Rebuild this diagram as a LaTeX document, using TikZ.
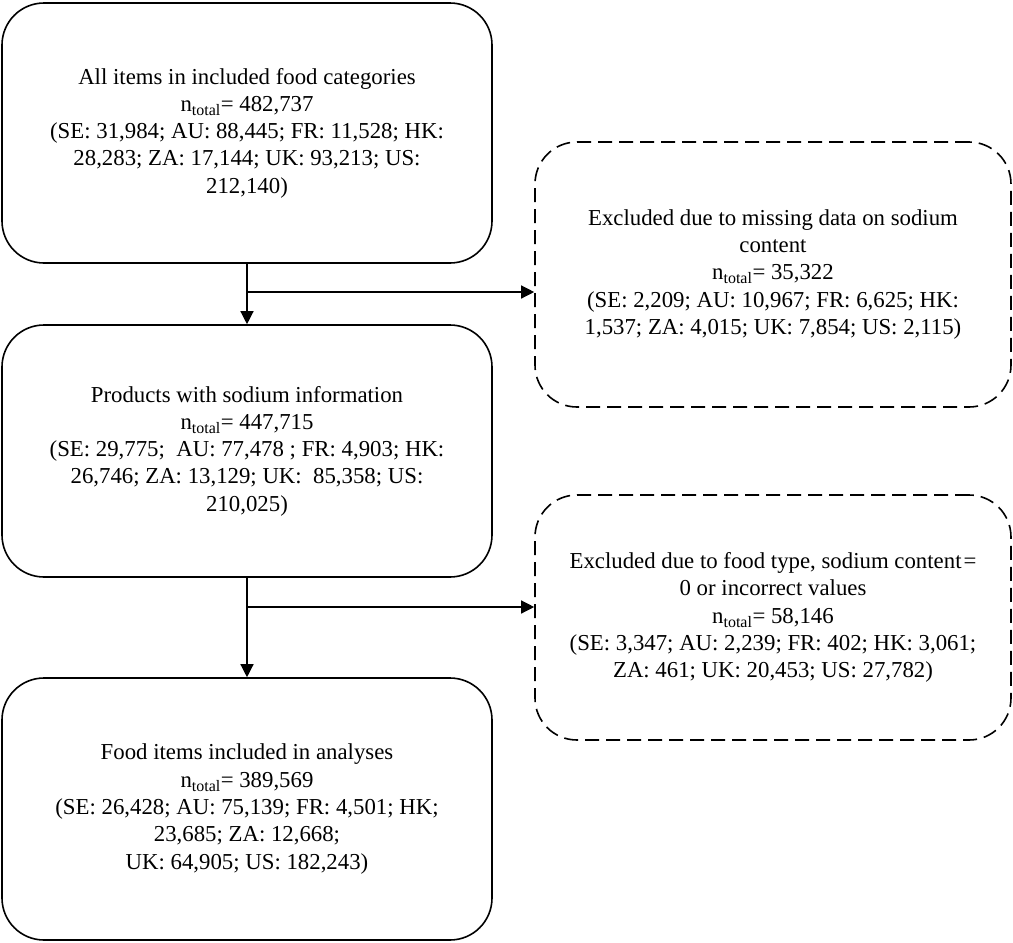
\documentclass[tikz,border=0pt]{standalone}
\usepackage{fontspec}
\setmainfont{Liberation Serif}
\usetikzlibrary{
    arrows.meta,
    calc,
    positioning
}

\begin{document}
\begin{tikzpicture}[x=1pt, y=-1pt,
    stage/.style={draw=black, line width=1.6pt, rounded corners=42pt, minimum width=490pt,
        align=center, inner sep=0pt, font=\fontsize{22.8}{27.3}\selectfont},
    excluded/.style={stage, dash pattern=on 14pt off 7pt, minimum width=476pt},
    flow/.style={line width=1.3pt, -{Triangle[length=13pt, width=13pt]}}
]
    \useasboundingbox (0, 0) rectangle (1013, 943);
    % main stages
    \node[stage, minimum height=260pt] (all) at (247, 133) {All items in included food categories\\
        n\textsubscript{total}= 482,737\\
        (SE: 31,984; AU: 88,445; FR: 11,528; HK:\\
        28,283; ZA: 17,144; UK: 93,213; US:\\
        212,140)};
    \node[stage, minimum height=252pt] (sodium) at (247, 451) {Products with sodium information\\
        n\textsubscript{total}= 447,715\\
        (SE: 29,775;\ \ AU: 77,478 ; FR: 4,903; HK:\\
        26,746; ZA: 13,129; UK:\ \ 85,358; US:\\
        210,025)};
    \node[stage, minimum height=262pt] (final) at (247, 809) {Food items included in analyses\\
        n\textsubscript{total}= 389,569\\
        (SE: 26,428; AU: 75,139; FR: 4,501; HK;\\
        23,685; ZA: 12,668;\\
        UK: 64,905; US: 182,243)};
    % exclusions
    \node[excluded, minimum height=265pt] (missing) at (773, 274.5) {Excluded due to missing data on sodium\\
        content\\
        n\textsubscript{total}= 35,322\\
        (SE: 2,209; AU: 10,967; FR: 6,625; HK:\\
        1,537; ZA: 4,015; UK: 7,854; US: 2,115)};
    \node[excluded, minimum height=245pt] (invalid) at (773, 617.5) {Excluded due to food type, sodium content\kern2pt=\\
        0 or incorrect values\\
        n\textsubscript{total}= 58,146\\
        (SE: 3,347; AU: 2,239; FR: 402; HK: 3,061;\\
        ZA: 461; UK: 20,453; US: 27,782)};
    % connectors
    \coordinate (split1) at (247, 292);
    \coordinate (split2) at (247, 607);
    \draw[flow] (all.south) -- (sodium.north);
    \draw[flow] (sodium.south) -- (final.north);
    \draw[flow] (split1) -- (split1 -| missing.west);
    \draw[flow] (split2) -- (split2 -| invalid.west);
\end{tikzpicture}
\end{document}
